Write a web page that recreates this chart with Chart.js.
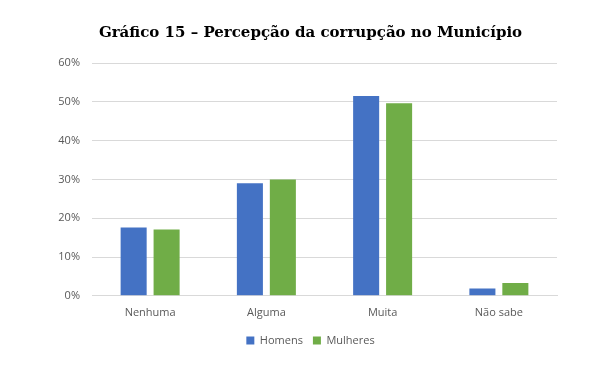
<!DOCTYPE html>
<html>
<head>
<meta charset="utf-8">
<script src="https://cdn.jsdelivr.net/npm/chart.js@4/dist/chart.umd.min.js"></script>
<style>
  html, body { margin: 0; padding: 0; background: #fff; }
  #wrap { width: 615px; height: 371px; }
</style>
</head>
<body>
<div id="wrap"><canvas id="chart" width="615" height="371"></canvas></div>
<script>
const categories = ["Nenhuma", "Alguma", "Muita", "Não sabe"];
const homens = [17.6, 29.0, 51.5, 1.9];
const mulheres = [17.1, 30.0, 49.6, 3.3];
const yTicks = [0, 10, 20, 30, 40, 50, 60];

const gray = "#595959";
const tickFont = { family: "'Open Sans', 'Liberation Sans', sans-serif", size: 11 };

const ctx = document.getElementById("chart").getContext("2d");
new Chart(ctx, {
  type: "bar",
  data: {
    labels: categories,
    datasets: [
      {
        label: "Homens",
        data: homens,
        backgroundColor: "#4472C4",
        barPercentage: 0.79,
        categoryPercentage: 0.567,
      },
      {
        label: "Mulheres",
        data: mulheres,
        backgroundColor: "#70AD47",
        barPercentage: 0.79,
        categoryPercentage: 0.567,
      },
    ],
  },
  options: {
    responsive: false,
    animation: false,
    layout: { padding: { left: 6, right: 0, top: 8, bottom: 15 } },
    plugins: {
      title: {
        display: true,
        text: "Gráfico 15 – Percepção da corrupção no Município",
        color: "#000",
        font: { family: "'DejaVu Serif', serif", size: 15, weight: "bold" },
        padding: { top: 16, bottom: 21 },
      },
      legend: {
        position: "bottom",
        labels: {
          color: gray,
          font: tickFont,
          boxWidth: 8,
          boxHeight: 8,
          padding: 10,
        },
      },
      tooltip: { enabled: false },
    },
    scales: {
      x: {
        grid: { display: false },
        border: { display: true, color: "#d9d9d9", width: 1 },
        ticks: { color: gray, font: tickFont, padding: 2 },
        afterFit: (scale) => { scale.height += 4; },
      },
      y: {
        min: 0,
        max: 60,
        afterFit: (scale) => { scale.width = 86; },
        afterBuildTicks: (scale) => { scale.ticks = yTicks.map((v) => ({ value: v })); },
        grid: { color: "#d9d9d9", drawTicks: false },
        border: { display: false },
        ticks: {
          color: gray,
          font: tickFont,
          padding: 12,
          callback: (v) => v + "%",
        },
      },
      // empty right-hand axis, only to keep the plot off the right edge
      yRight: {
        position: "right",
        min: 0,
        max: 60,
        afterFit: (scale) => { scale.width = 58; },
        grid: { display: false },
        border: { display: false },
        ticks: { display: false },
      },
    },
  },
});
</script>
</body>
</html>
